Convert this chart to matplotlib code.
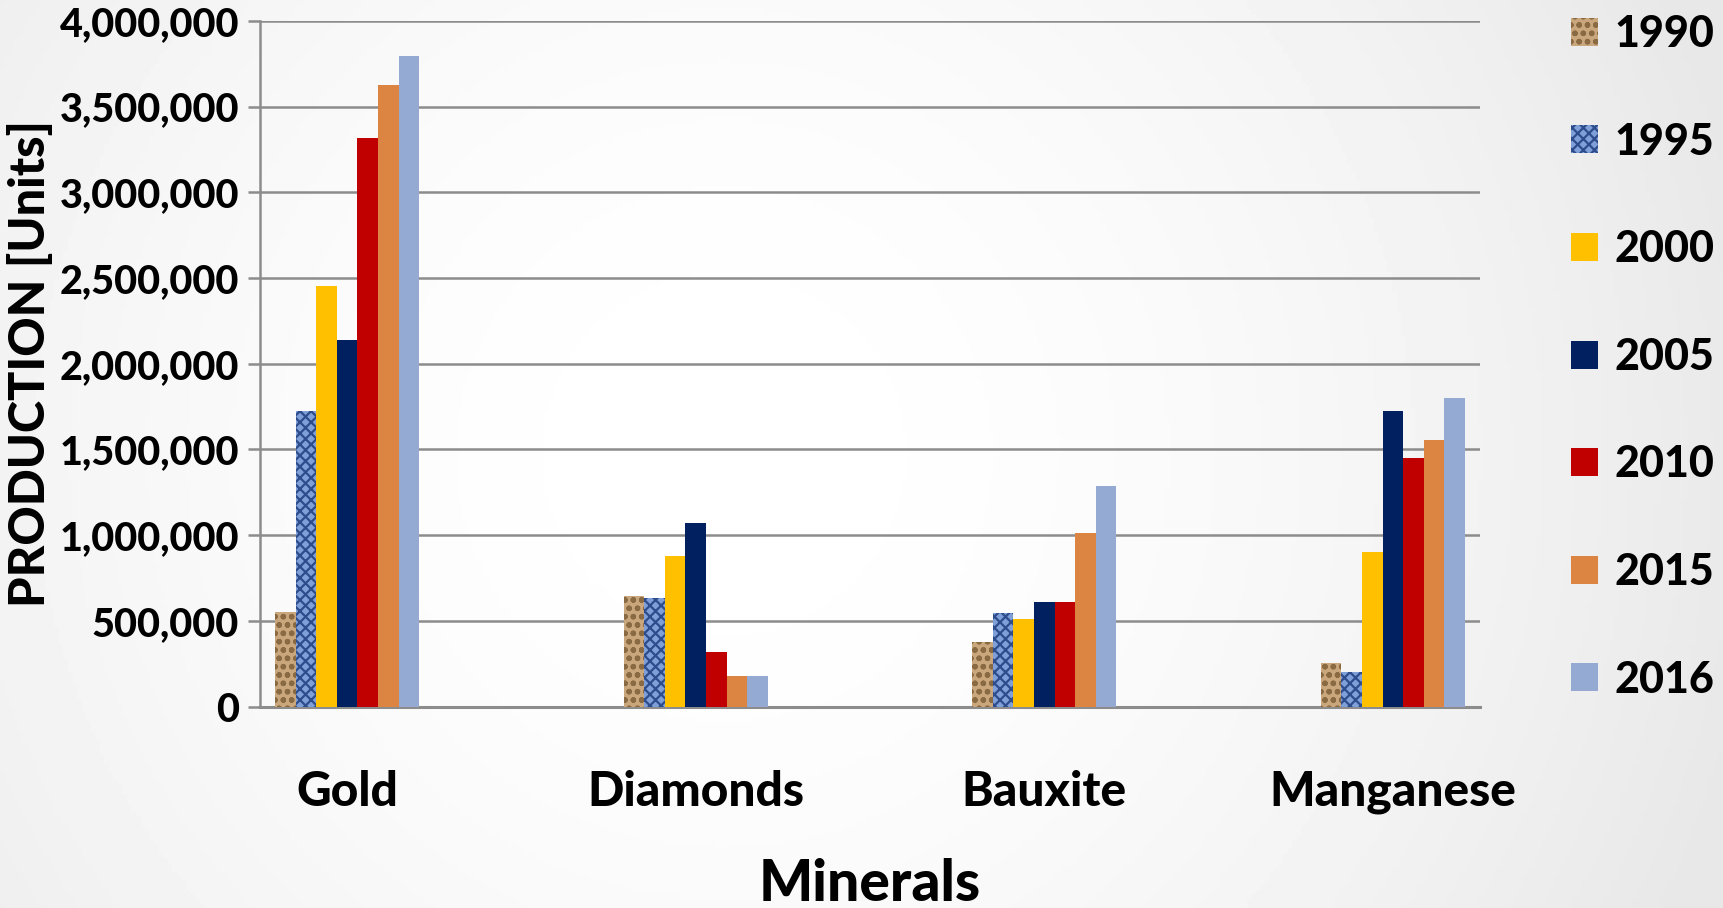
import numpy as np
import matplotlib
matplotlib.use("Agg")
import matplotlib.pyplot as plt
from matplotlib.ticker import FuncFormatter

# ---- data ----
minerals = ["Gold", "Diamonds", "Bauxite", "Manganese"]
years = ["1990", "1995", "2000", "2005", "2010", "2015", "2016"]
v1990 = [550000, 645000, 378000, 256000]
v1995 = [1724000, 635000, 545000, 199000]
v2000 = [2455000, 878000, 513000, 904000]
v2005 = [2141000, 1070000, 609000, 1724000]
v2010 = [3314000, 320000, 609000, 1449000]
v2015 = [3628000, 180000, 1013000, 1558000]
v2016 = [3795000, 180000, 1288000, 1801000]
series = [v1990, v1995, v2000, v2005, v2010, v2015, v2016]
yticks = [0, 500000, 1000000, 1500000, 2000000, 2500000, 3000000, 3500000, 4000000]

# ---- style ----
face = ["#C9A67B", "#7F9FD8", "#FFC000", "#002060", "#C00000", "#DC8441", "#95AAD2"]
hatch = ["oo", "xxx", None, None, None, None, None]
hatch_col = ["#8A6A42", "#2E4C8C", None, None, None, None, None]
FONT = "Lato"
W = 900
plt.rcParams["font.family"] = [FONT, "DejaVu Sans"]
plt.rcParams["font.weight"] = W
plt.rcParams["hatch.linewidth"] = 1.6

fig = plt.figure(figsize=(17.23, 9.08), dpi=100)

# background gradient
bg = fig.add_axes([0, 0, 1, 1], zorder=-10)
yy, xx = np.mgrid[0:1:200j, 0:1:380j]
r = np.sqrt(((xx - 0.42) * 1.9) ** 2 + ((yy - 0.5) * 1.0) ** 2)
img = 1.0 - 0.09 * np.clip(r / 1.15, 0, 1) ** 1.8
bg.imshow(img, cmap="gray", vmin=0, vmax=1, aspect="auto", extent=[0, 1, 0, 1], origin="upper")
bg.set_axis_off()

ax = fig.add_axes([0.1509, 0.2218, 0.859 - 0.1509, 0.977 - 0.2218])
ax.patch.set_alpha(0)

x = np.arange(len(minerals))
w = 0.059
n = len(series)
for i, vals in enumerate(series):
    off = (i - (n - 1) / 2) * w
    if hatch[i]:
        kw = dict(hatch=hatch[i], edgecolor=hatch_col[i], linewidth=0)
    else:
        kw = dict(edgecolor="none", linewidth=0)
    ax.bar(x + off, vals, width=w, color=face[i], label=years[i], zorder=3, **kw)

ax.set_xlim(-0.25, 3.25)
ax.set_ylim(0, 4000000)
ax.set_yticks(yticks)
ax.yaxis.set_major_formatter(FuncFormatter(lambda v, p: f"{int(v):,}"))
ax.grid(axis="y", color="#8C8C8C", linewidth=1.8, zorder=0)
ax.set_axisbelow(True)

for s in ["top", "right"]:
    ax.spines[s].set_visible(False)
ax.spines["left"].set_color("#8C8C8C")
ax.spines["left"].set_linewidth(1.8)
ax.spines["bottom"].set_color("#8C8C8C")
ax.spines["bottom"].set_linewidth(2.2)

ax.tick_params(axis="y", length=9, width=1.8, color="#8C8C8C", pad=6, labelsize=28.5)
ax.tick_params(axis="x", length=0, pad=46, labelsize=34.5)
ax.set_xticks(x)
ax.set_xticklabels(minerals)
for t in ax.get_yticklabels() + ax.get_xticklabels():
    t.set_fontweight(W)

ax.set_ylabel("PRODUCTION [Units]", fontsize=35, fontweight=W)
ax.yaxis.set_label_coords(-0.17, 0.5)
ax.set_xlabel("Minerals", fontsize=41, fontweight=W, labelpad=31)

fig.legend(loc="upper left", bbox_to_anchor=(1571 / 1723, 1 - 14 / 908),
           frameon=False, prop={"weight": W, "size": 31},
           handlelength=0.62, handleheight=0.62, handletextpad=0.4,
           labelspacing=1.57, borderaxespad=0, borderpad=0)

fig.savefig("out.png", dpi=100)
